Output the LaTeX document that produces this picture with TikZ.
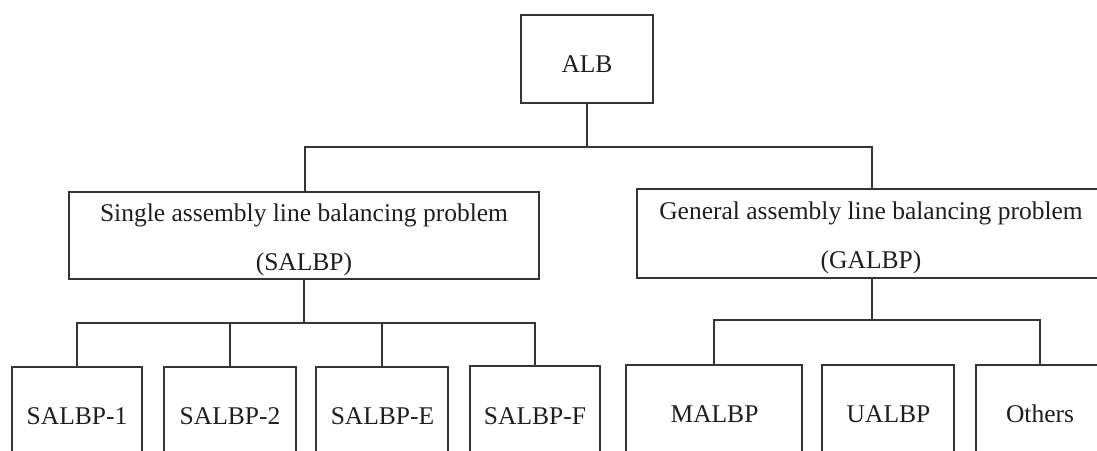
\documentclass[tikz,border=0pt]{standalone}
\usepackage{fontspec}
\setmainfont{Liberation Serif}
\begin{document}
\begin{tikzpicture}[x=1pt,y=-1pt,
  line width=1.8pt,
  every node/.style={inner sep=0pt, outer sep=0pt},
  box/.style={draw=inkgray, rectangle, line width=1.8pt},
  lbl/.style={text=txtgray, font=\fontsize{25.5}{49}\selectfont, align=center},
  link/.style={draw=inkgray, line width=1.8pt}]
\definecolor{inkgray}{HTML}{353535}
\definecolor{txtgray}{HTML}{1E1E1E}
\useasboundingbox (0,0) rectangle (1097,450);
\clip (0,0) rectangle (1097,450);

% root
\node[box, minimum width=132pt, minimum height=88pt] (alb) at (587,59) {};
\node[lbl] (albt) at (587,64) {ALB};

% second level
\node[box, minimum width=470pt, minimum height=87pt] (salbp) at (304,235.5) {};
\node[lbl] (salbpt) at (304,240) {Single assembly line balancing problem\\(SALBP)};
\node[box, minimum width=470pt, minimum height=89pt] (galbp) at (872,233.5) {};
\node[lbl] (galbpt) at (871,237.5) {General assembly line balancing problem\\(GALBP)};

% third level (boxes run past the lower edge)
\node[box, minimum width=130pt, minimum height=100pt] (s1) at (77,417) {};
\node[box, minimum width=132pt, minimum height=100pt] (s2) at (230,417) {};
\node[box, minimum width=132pt, minimum height=100pt] (se) at (382,417) {};
\node[box, minimum width=130pt, minimum height=100pt] (sf) at (535,416) {};
\node[box, minimum width=176pt, minimum height=100pt] (ma) at (714,415) {};
\node[box, minimum width=132pt, minimum height=100pt] (ua) at (888,415) {};
\node[box, minimum width=130pt, minimum height=100pt] (ot) at (1041,415) {};

\node[lbl] (s1t) at (77,416) {SALBP-1};
\node[lbl] (s2t) at (230,416) {SALBP-2};
\node[lbl] (set) at (382.5,416) {SALBP-E};
\node[lbl] (sft) at (535,416) {SALBP-F};
\node[lbl] (mat) at (714.5,414) {MALBP};
\node[lbl] (uat) at (888.5,414) {UALBP};
\node[lbl] (ott) at (1040,414) {Others};

% bus lines
\coordinate (bus0) at (305,147);
\coordinate (bus1) at (76,323);
\coordinate (bus2) at (714,320);

\draw[link] (alb.south) -- (alb.south |- bus0);
\draw[link] (salbp.north -| bus0) |- (galbp.north |- bus0) -- (galbp.north);

\draw[link] (salbp.south) -- (salbp.south |- bus1);
\draw[link] (s1.north) |- (sf.north |- bus1) -- (sf.north);
\draw[link] (s2.north) -- (s2.north |- bus1);
\draw[link] (se.north) -- (se.north |- bus1);

\draw[link] (galbp.south) -- (galbp.south |- bus2);
\draw[link] (ma.north) |- (1040,320) -- (1040,365);
\end{tikzpicture}
\end{document}
